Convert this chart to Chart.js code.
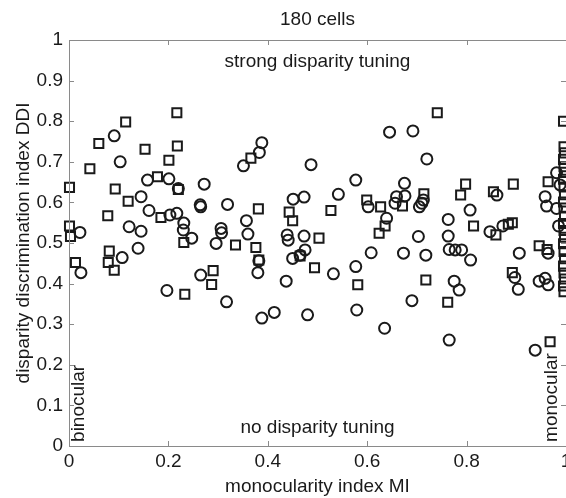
<!DOCTYPE html>
<html>
<head>
<meta charset="utf-8">
<script src="https://cdn.jsdelivr.net/npm/chart.js@4.4.1/dist/chart.umd.min.js"></script>
<style>
  html, body { margin: 0; padding: 0; background: #fff; overflow: hidden; }
  #wrap { width: 600px; height: 498px; }
</style>
</head>
<body>
<div id="wrap"><canvas id="chart" width="600" height="498"></canvas></div>
<script>
// monocularity index MI / disparity discrimination index DDI
const circleX = [0.091, 0.103, 0.158, 0.201, 0.220, 0.145, 0.161, 0.203, 0.217, 0.231,
  0.230, 0.121, 0.145, 0.022, 0.139, 0.107, 0.024, 0.197, 0.388, 0.383,
  0.351, 0.487, 0.272, 0.264, 0.265, 0.319, 0.451, 0.473, 0.357, 0.360,
  0.306, 0.307, 0.296, 0.247, 0.439, 0.441, 0.473, 0.450, 0.465, 0.475,
  0.382, 0.380, 0.265, 0.437, 0.317, 0.388, 0.413, 0.480, 0.645, 0.692,
  0.720, 0.577, 0.542, 0.675, 0.659, 0.676, 0.656, 0.602, 0.705, 0.713,
  0.639, 0.703, 0.608, 0.673, 0.718, 0.532, 0.577, 0.690, 0.579, 0.981,
  0.988, 0.958, 0.961, 0.981, 0.985, 0.861, 0.710, 0.807, 0.763, 0.763,
  0.765, 0.777, 0.790, 0.808, 0.847, 0.873, 0.906, 0.964, 0.775, 0.785,
  0.897, 0.904, 0.946, 0.958, 0.964, 0.635, 0.765, 0.938];
const circleY = [0.764, 0.700, 0.655, 0.658, 0.634, 0.614, 0.580, 0.569, 0.573, 0.549,
  0.532, 0.540, 0.529, 0.526, 0.487, 0.464, 0.427, 0.383, 0.747, 0.723,
  0.690, 0.693, 0.645, 0.594, 0.589, 0.595, 0.608, 0.613, 0.555, 0.522,
  0.536, 0.525, 0.499, 0.512, 0.520, 0.507, 0.517, 0.462, 0.470, 0.483,
  0.456, 0.427, 0.421, 0.406, 0.355, 0.315, 0.329, 0.323, 0.773, 0.776,
  0.707, 0.655, 0.620, 0.647, 0.614, 0.616, 0.598, 0.589, 0.589, 0.606,
  0.561, 0.516, 0.476, 0.475, 0.470, 0.424, 0.442, 0.358, 0.335, 0.673,
  0.643, 0.614, 0.591, 0.585, 0.542, 0.618, 0.598, 0.581, 0.558, 0.517,
  0.484, 0.483, 0.483, 0.458, 0.528, 0.542, 0.475, 0.475, 0.406, 0.384,
  0.415, 0.386, 0.406, 0.413, 0.397, 0.290, 0.261, 0.236];

const squareX = [0.217, 0.114, 0.060, 0.153, 0.218, 0.201, 0.042, 0.001, 0.093, 0.178,
  0.119, 0.220, 0.078, 0.185, 0.001, 0.003, 0.231, 0.081, 0.013, 0.079,
  0.091, 0.233, 0.366, 0.381, 0.443, 0.450, 0.335, 0.376, 0.382, 0.290,
  0.287, 0.527, 0.599, 0.627, 0.671, 0.714, 0.636, 0.624, 0.503, 0.465,
  0.494, 0.581, 0.718, 0.741, 0.995, 0.798, 0.788, 0.854, 0.894, 0.964,
  0.814, 0.859, 0.892, 0.884, 0.946, 0.962, 0.892, 0.762, 0.968,
  0.996, 0.997, 0.995, 0.996, 0.997, 0.995, 0.996, 0.997, 0.995, 0.996,
  0.997, 0.995, 0.996, 0.997, 0.995, 0.996, 0.997, 0.995, 0.996, 0.997,
  0.995, 0.996];
const squareY = [0.821, 0.798, 0.745, 0.731, 0.739, 0.704, 0.683, 0.637, 0.633, 0.663,
  0.603, 0.632, 0.567, 0.563, 0.542, 0.516, 0.501, 0.480, 0.452, 0.452,
  0.433, 0.374, 0.709, 0.584, 0.576, 0.555, 0.495, 0.489, 0.458, 0.432,
  0.398, 0.580, 0.606, 0.589, 0.591, 0.621, 0.542, 0.524, 0.512, 0.468,
  0.439, 0.397, 0.409, 0.821, 0.800, 0.645, 0.618, 0.626, 0.645, 0.651,
  0.542, 0.520, 0.550, 0.546, 0.493, 0.484, 0.427, 0.354, 0.257,
  0.737, 0.722, 0.706, 0.688, 0.674, 0.657, 0.638, 0.619, 0.601, 0.586,
  0.566, 0.548, 0.531, 0.514, 0.498, 0.479, 0.461, 0.443, 0.426, 0.411,
  0.394, 0.380];

const xTicks = [0, 0.2, 0.4, 0.6, 0.8, 1];
const yTicks = [0, 0.1, 0.2, 0.3, 0.4, 0.5, 0.6, 0.7, 0.8, 0.9, 1];

const FONT = 'Liberation Sans, Arial, sans-serif';
const SIZE = 19;
const INK = '#1a1a1a';
const AXIS = '#8a8a8a';

function pairs(xs, ys) {
  return xs.map((x, i) => ({ x: x, y: ys[i] }));
}

// matlab style box with inward ticks, plus the text annotations
const framePlugin = {
  id: 'frame',
  afterDraw(chart) {
    const { ctx, chartArea: a, scales } = chart;
    ctx.save();
    ctx.strokeStyle = AXIS;
    ctx.lineWidth = 1;
    ctx.strokeRect(a.left + 0.5, a.top + 0.5, a.right - a.left, a.bottom - a.top);
    ctx.beginPath();
    xTicks.slice(1, -1).forEach(v => {
      const px = Math.round(scales.x.getPixelForValue(v)) + 0.5;
      ctx.moveTo(px, a.bottom); ctx.lineTo(px, a.bottom - 5);
      ctx.moveTo(px, a.top); ctx.lineTo(px, a.top + 5);
    });
    yTicks.slice(1, -1).forEach(v => {
      const py = Math.round(scales.y.getPixelForValue(v)) + 0.5;
      ctx.moveTo(a.left, py); ctx.lineTo(a.left + 5, py);
      ctx.moveTo(a.right, py); ctx.lineTo(a.right - 5, py);
    });
    ctx.stroke();

    ctx.fillStyle = INK;
    ctx.font = SIZE + 'px ' + FONT;
    ctx.textAlign = 'center';
    ctx.textBaseline = 'middle';
    ctx.fillText('strong disparity tuning', scales.x.getPixelForValue(0.5), scales.y.getPixelForValue(0.946));
    ctx.fillText('no disparity tuning', scales.x.getPixelForValue(0.5), scales.y.getPixelForValue(0.044));

    ctx.textAlign = 'left';
    ctx.save();
    ctx.translate(scales.x.getPixelForValue(0.02), scales.y.getPixelForValue(0.01));
    ctx.rotate(-Math.PI / 2);
    ctx.fillText('binocular', 0, 0);
    ctx.restore();
    ctx.save();
    ctx.translate(scales.x.getPixelForValue(0.972), scales.y.getPixelForValue(0.01));
    ctx.rotate(-Math.PI / 2);
    ctx.fillText('monocular', 0, 0);
    ctx.restore();
    ctx.restore();
  }
};

const ctx = document.getElementById('chart').getContext('2d');
new Chart(ctx, {
  type: 'scatter',
  data: {
    datasets: [
      {
        label: 'circles',
        data: pairs(circleX, circleY),
        pointStyle: 'circle',
        pointRadius: 5.5,
        pointBorderWidth: 2,
        pointBorderColor: INK,
        pointBackgroundColor: 'rgba(0,0,0,0)',
        clip: false
      },
      {
        label: 'squares',
        data: pairs(squareX, squareY),
        pointStyle: 'rect',
        pointRadius: 6.4,
        pointBorderWidth: 2,
        pointBorderColor: INK,
        pointBackgroundColor: 'rgba(0,0,0,0)',
        clip: false
      }
    ]
  },
  options: {
    responsive: false,
    animation: false,
    events: [],
    layout: { padding: { left: 0, right: 34, top: 0, bottom: 0 } },
    plugins: {
      legend: { display: false },
      tooltip: { enabled: false },
      title: {
        display: true,
        text: '180 cells',
        fullSize: false,
        color: INK,
        font: { family: FONT, size: SIZE, weight: 'normal' },
        padding: { top: 8.6, bottom: 8.6 }
      }
    },
    scales: {
      x: {
        type: 'linear',
        min: 0,
        max: 1,
        afterBuildTicks: s => { s.ticks = xTicks.map(v => ({ value: v })); },
        afterFit: s => { s.height = 52; s.paddingLeft = 0; s.paddingRight = 0; },
        grid: { display: false, drawTicks: false },
        border: { display: false },
        ticks: {
          padding: 4,
          color: INK,
          maxRotation: 0,
          font: { family: FONT, size: SIZE },
          callback: v => String(v)
        },
        title: {
          display: true,
          text: 'monocularity index MI',
          color: INK,
          font: { family: FONT, size: SIZE },
          padding: { top: 2, bottom: 0 }
        }
      },
      y: {
        type: 'linear',
        min: 0,
        max: 1,
        afterBuildTicks: s => { s.ticks = yTicks.map(v => ({ value: v })); },
        afterFit: s => { s.width = 69; s.paddingTop = 0; s.paddingBottom = 0; },
        grid: { display: false, drawTicks: false },
        border: { display: false },
        ticks: {
          padding: 6,
          color: INK,
          font: { family: FONT, size: SIZE },
          callback: v => String(v)
        },
        title: {
          display: true,
          text: 'disparity discrimination index DDI',
          color: INK,
          font: { family: FONT, size: SIZE },
          padding: { top: 12.5, bottom: 0 }
        }
      }
    }
  },
  plugins: [framePlugin]
});
</script>
</body>
</html>
